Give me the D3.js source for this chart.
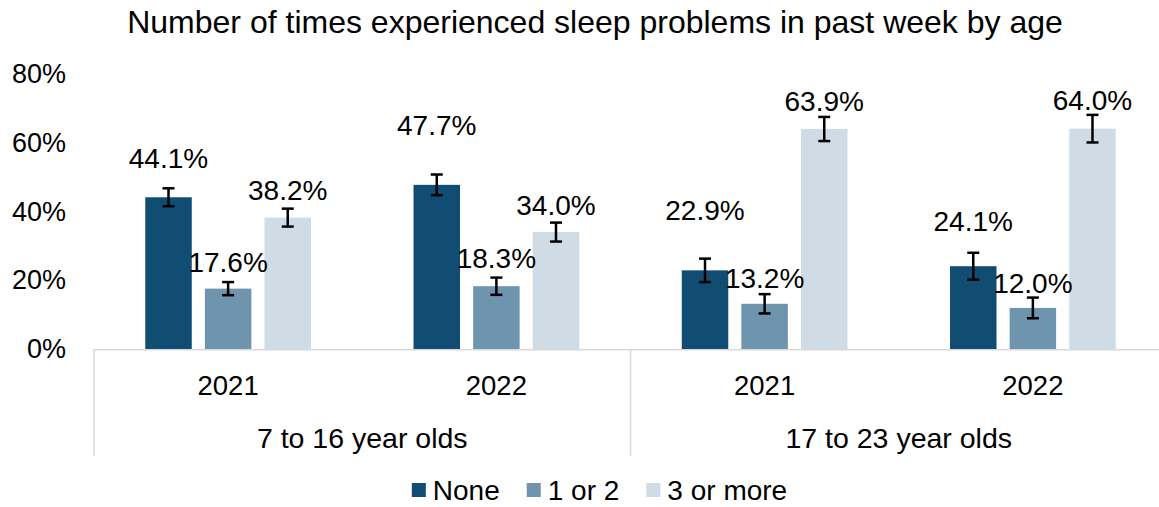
<!DOCTYPE html>
<html>
<head>
<meta charset="utf-8">
<script src="https://cdn.jsdelivr.net/npm/d3@7"></script>
<style>
  html, body { margin: 0; padding: 0; background: #ffffff; }
  svg { display: block; font-family: "Liberation Sans", Arial, sans-serif; }
</style>
</head>
<body>
<svg id="chart" width="1159" height="507"></svg>
<script>
// ---------- data ----------
const title = "Number of times experienced sleep problems in past week by age";
const ageGroups = ["7 to 16 year olds", "17 to 23 year olds"];
const years = ["2021", "2022", "2021", "2022"];
const yearGroup = [0, 0, 1, 1];
const seriesNames = ["None", "1 or 2", "3 or more"];
const noneValues = [44.1, 47.7, 22.9, 24.1];
const oneOrTwoValues = [17.6, 18.3, 13.2, 12.0];
const threePlusValues = [38.2, 34.0, 63.9, 64.0];
const noneErrors = [2.6, 3.0, 3.4, 3.9];
const oneOrTwoErrors = [1.9, 2.5, 2.8, 3.0];
const threePlusErrors = [2.6, 2.75, 3.5, 4.0];
const yTicks = [0, 20, 40, 60, 80];

// label lift above bar top (px) per series, per category
const noneLabelLift = [39, 60, 60, 45];
const oneOrTwoLabelLift = [26.6, 28, 26, 25.5];
const threePlusLabelLift = [27.6, 27.5, 28, 28.7];

const colors = ["#114d72", "#6f94ae", "#cfdce5"];

const seriesValues = [noneValues, oneOrTwoValues, threePlusValues];
const seriesErrors = [noneErrors, oneOrTwoErrors, threePlusErrors];
const seriesLift = [noneLabelLift, oneOrTwoLabelLift, threePlusLabelLift];

// ---------- layout ----------
const svg = d3.select("#chart");
const plotLeft = 94, plotRight = 1167, plotTop = 73.5, plotBottom = 349.3;

const catIdx = years.map((d, i) => i);
const x0 = d3.scaleBand().domain(catIdx).range([plotLeft, plotRight]).padding(0);
const x1 = d3.scaleBand().domain(d3.range(seriesNames.length))
  .range([0, x0.bandwidth()]).paddingInner(0.22).paddingOuter(0.86);
const y = d3.scaleLinear().domain([0, 80]).range([plotBottom, plotTop]);

// title
svg.append("text")
  .attr("x", 595).attr("y", 33)
  .attr("text-anchor", "middle")
  .attr("font-size", 32).attr("fill", "#000")
  .text(title);

// y axis (labels only)
const yAxis = d3.axisLeft(y).tickValues(yTicks).tickSize(0).tickPadding(28)
  .tickFormat(d => d + "%");
const yg = svg.append("g").attr("transform", `translate(${plotLeft},0)`).call(yAxis);
yg.select(".domain").remove();
yg.selectAll("text").attr("font-size", 27).attr("fill", "#000")
  .attr("font-family", "Liberation Sans, Arial, sans-serif");

// bars
const rows = [];
seriesNames.forEach((s, si) => {
  catIdx.forEach(ci => {
    rows.push({ si, ci, v: seriesValues[si][ci], e: seriesErrors[si][ci], lift: seriesLift[si][ci] });
  });
});

svg.append("g").selectAll("rect").data(rows).join("rect")
  .attr("x", d => x0(d.ci) + x1(d.si))
  .attr("y", d => y(d.v))
  .attr("width", x1.bandwidth())
  .attr("height", d => y(0) - y(d.v))
  .attr("fill", d => colors[d.si]);

// x axis line & separators
const axisColor = "#d9d9d9";
svg.append("line").attr("x1", plotLeft).attr("x2", plotRight)
  .attr("y1", plotBottom + 0.5).attr("y2", plotBottom + 0.5)
  .attr("stroke", axisColor).attr("stroke-width", 1.5);
const sepX = [plotLeft, x0(2), plotRight];
svg.append("g").selectAll("line").data(sepX).join("line")
  .attr("x1", d => d).attr("x2", d => d)
  .attr("y1", plotBottom).attr("y2", 456)
  .attr("stroke", axisColor).attr("stroke-width", 1.5);

// error bars
const eg = svg.append("g").attr("stroke", "#000").attr("stroke-width", 2.5).attr("fill", "none");
rows.forEach(d => {
  const cx = x0(d.ci) + x1(d.si) + x1.bandwidth() / 2;
  const yt = y(d.v + d.e), yb = y(d.v - d.e);
  eg.append("line").attr("x1", cx).attr("x2", cx).attr("y1", yt).attr("y2", yb);
  eg.append("line").attr("x1", cx - 6).attr("x2", cx + 6).attr("y1", yt).attr("y2", yt);
  eg.append("line").attr("x1", cx - 6).attr("x2", cx + 6).attr("y1", yb).attr("y2", yb);
});

// data labels
svg.append("g").selectAll("text").data(rows).join("text")
  .attr("x", d => x0(d.ci) + x1(d.si) + x1.bandwidth() / 2)
  .attr("y", d => y(d.v) - d.lift)
  .attr("dy", "0.36em")
  .attr("text-anchor", "middle")
  .attr("font-size", 28).attr("fill", "#000")
  .text(d => d.v.toFixed(1) + "%");

// category labels (years)
svg.append("g").selectAll("text").data(catIdx).join("text")
  .attr("x", d => x0(d) + x0.bandwidth() / 2)
  .attr("y", 385.5).attr("dy", "0.36em")
  .attr("text-anchor", "middle")
  .attr("font-size", 27.5).attr("fill", "#000")
  .text(d => years[d]);

// group labels
svg.append("g").selectAll("text").data(ageGroups).join("text")
  .attr("x", (d, gi) => {
    const idx = catIdx.filter(c => yearGroup[c] === gi);
    return (x0(idx[0]) + x0(idx[idx.length - 1]) + x0.bandwidth()) / 2;
  })
  .attr("y", 438).attr("dy", "0.36em")
  .attr("text-anchor", "middle")
  .attr("font-size", 28.5).attr("fill", "#000")
  .text(d => d);

// legend
const lg = svg.append("g");
let lx = 0;
seriesNames.forEach((s, i) => {
  const g = lg.append("g");
  g.append("rect").attr("x", 0).attr("y", -7).attr("width", 14).attr("height", 14).attr("fill", colors[i]);
  const t = g.append("text").attr("x", 21).attr("y", 0).attr("dy", "0.36em")
    .attr("font-size", 28).attr("fill", "#000").text(s);
  const w = 21 + t.node().getComputedTextLength();
  g.attr("transform", `translate(${lx},0)`);
  lx += w + 27;
});
const legendW = lx - 27;
lg.attr("transform", `translate(${599.5 - legendW / 2},490)`);
</script>
</body>
</html>
